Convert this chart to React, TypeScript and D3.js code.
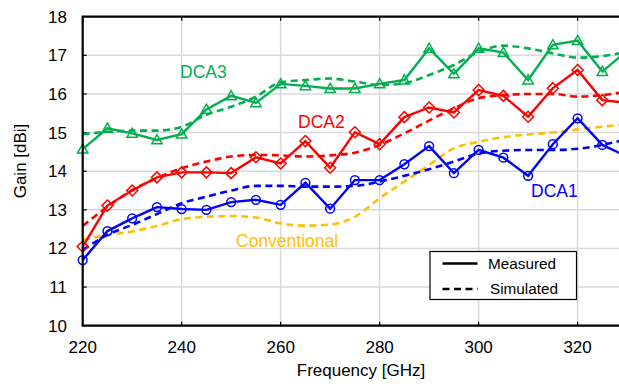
import React from "react";
import * as d3 from "d3";

const freqs = [220,225,230,235,240,245,250,255,260,265,270,275,280,285,290,295,300,305,310,315,320,325,330];

const dca3Meas = [14.57,15.11,14.98,14.81,14.96,15.6,15.95,15.77,16.26,16.21,16.14,16.14,16.26,16.36,17.18,16.52,17.18,17.07,16.36,17.27,17.38,16.58,17.12];
const dca3Sim = [14.96,15.02,15.05,15.05,15.15,15.46,15.67,15.93,16.3,16.36,16.4,16.32,16.23,16.28,16.49,16.75,17.09,17.25,17.18,17.05,16.94,16.98,17.09];

const dca2Meas = [12.05,13.11,13.5,13.84,13.97,13.97,13.95,14.36,14.2,14.78,14.09,15.01,14.7,15.4,15.65,15.52,16.1,15.95,15.41,16.15,16.62,15.84,15.77];
const dca2Sim = [12.58,13.08,13.51,13.82,14.08,14.25,14.38,14.42,14.41,14.38,14.41,14.48,14.68,14.98,15.31,15.63,15.89,15.97,16.0,16.0,15.93,15.97,16.06];

const dca1Meas = [11.7,12.45,12.78,13.07,13.02,13.0,13.2,13.26,13.13,13.7,13.03,13.77,13.77,14.18,14.65,13.95,14.55,14.35,13.88,14.7,15.37,14.68,14.38];
const dca1Sim = [11.96,12.35,12.61,12.89,13.17,13.34,13.5,13.62,13.62,13.6,13.6,13.62,13.73,13.88,14.05,14.25,14.46,14.53,14.55,14.55,14.58,14.68,14.83];

const convSim = [12.22,12.35,12.44,12.58,12.76,12.82,12.84,12.8,12.65,12.59,12.62,12.82,13.3,13.73,14.16,14.59,14.76,14.88,14.95,15.0,15.08,15.15,15.22];

const xTicks = [220,240,260,280,300,320];
const yTicks = [10,11,12,13,14,15,16,17,18];

const GREEN = "#00b050";
const RED = "#ff0000";
const BLUE = "#0000ff";
const ORANGE = "#ffc000";

export default function App() {
  const W = 619, H = 388;
  const x = d3.scaleLinear().domain([220, 320]).range([82.7, 577.6]);
  const y = d3.scaleLinear().domain([10, 18]).range([325.7, 16.7]);
  const font = "'Liberation Sans', Arial, sans-serif";

  const solid = d3.line<number>().x((_, i) => x(freqs[i])).y((d) => y(d));
  const smooth = d3.line<number>().x((_, i) => x(freqs[i])).y((d) => y(d)).curve(d3.curveMonotoneX);

  const tri = (cx: number, cy: number) => {
    const s = 5.2;
    return `M${cx},${cy - s}L${cx + s},${cy + s * 0.75}L${cx - s},${cy + s * 0.75}Z`;
  };
  const dia = (cx: number, cy: number) => {
    const s = 5.5;
    return `M${cx},${cy - s}L${cx + s},${cy}L${cx},${cy + s}L${cx - s},${cy}Z`;
  };

  const left = 82.7, top = 16.7, bottom = 325.7;

  return (
    <div style={{ position: "absolute", left: 0, top: 0 }}>
      <svg width={W} height={H} style={{ display: "block", background: "#fff" }}>
        {/* grid */}
        {yTicks.slice(1, -1).map((t) => (
          <line key={"gy" + t} x1={left} x2={W} y1={y(t)} y2={y(t)} stroke="#d9d9d9" strokeWidth={1.5} />
        ))}
        {xTicks.slice(1).map((t) => (
          <line key={"gx" + t} x1={x(t)} x2={x(t)} y1={top} y2={bottom} stroke="#d9d9d9" strokeWidth={1.5} />
        ))}
        {/* tick marks */}
        {yTicks.slice(1, -1).map((t) => (
          <line key={"ty" + t} x1={left} x2={left + 4} y1={y(t)} y2={y(t)} stroke="#000" strokeWidth={1.2} />
        ))}
        {xTicks.slice(1).map((t) => (
          <g key={"tx" + t}>
            <line x1={x(t)} x2={x(t)} y1={bottom} y2={bottom - 4} stroke="#000" strokeWidth={1.2} />
            <line x1={x(t)} x2={x(t)} y1={top} y2={top + 4} stroke="#000" strokeWidth={1.2} />
          </g>
        ))}

        {/* simulated */}
        {[
          [convSim, ORANGE],
          [dca1Sim, BLUE],
          [dca2Sim, RED],
          [dca3Sim, GREEN],
        ].map(([d, c], i) => (
          <path key={"s" + i} d={smooth(d as number[]) || ""} fill="none" stroke={c as string} strokeWidth={2.6} strokeDasharray="7,4.5" />
        ))}

        {/* measured */}
        <path d={solid(dca1Meas) || ""} fill="none" stroke={BLUE} strokeWidth={2.4} />
        {dca1Meas.map((v, i) => (
          <circle key={"c" + i} cx={x(freqs[i])} cy={y(v)} r={4.4} fill="none" stroke={BLUE} strokeWidth={1.5} />
        ))}
        <path d={solid(dca2Meas) || ""} fill="none" stroke={RED} strokeWidth={2.4} />
        {dca2Meas.map((v, i) => (
          <path key={"d" + i} d={dia(x(freqs[i]), y(v))} fill="none" stroke={RED} strokeWidth={1.5} />
        ))}
        <path d={solid(dca3Meas) || ""} fill="none" stroke={GREEN} strokeWidth={2.4} />
        {dca3Meas.map((v, i) => (
          <path key={"t" + i} d={tri(x(freqs[i]), y(v))} fill="none" stroke={GREEN} strokeWidth={1.5} />
        ))}

        {/* axes frame */}
        <line x1={left} x2={left} y1={top} y2={bottom} stroke="#000" strokeWidth={2.2} />
        <line x1={left - 1} x2={W} y1={bottom} y2={bottom} stroke="#000" strokeWidth={2.2} />
        <line x1={left - 1} x2={W} y1={top} y2={top} stroke="#000" strokeWidth={2.2} />

        {/* tick labels */}
        {yTicks.map((t) => (
          <text key={"ly" + t} x={67} y={y(t)} dy="0.35em" textAnchor="end" fontFamily={font} fontSize={17} fill="#000">{t}</text>
        ))}
        {xTicks.map((t) => (
          <text key={"lx" + t} x={x(t)} y={347.5} dy="0.35em" textAnchor="middle" fontFamily={font} fontSize={17} fill="#000">{t}</text>
        ))}
        <text x={361} y={370} dy="0.35em" textAnchor="middle" fontFamily={font} fontSize={17} fill="#000">Frequency [GHz]</text>
        <text transform="translate(20,161) rotate(-90)" dy="0.35em" textAnchor="middle" fontFamily={font} fontSize={17} fill="#000">Gain [dBi]</text>

        {/* series labels */}
        <text x={180} y={72} dy="0.35em" fontFamily={font} fontSize={17.5} fill={GREEN}>DCA3</text>
        <text x={298} y={122} dy="0.35em" fontFamily={font} fontSize={17.5} fill={RED}>DCA2</text>
        <text x={531} y={191} dy="0.35em" fontFamily={font} fontSize={17.5} fill={BLUE}>DCA1</text>
        <text x={236} y={241} dy="0.35em" fontFamily={font} fontSize={17.5} fill={ORANGE}>Conventional</text>

        {/* legend */}
        <rect x={430} y={251.5} width={146.5} height={48} fill="#fff" stroke="#000" strokeWidth={1.2} />
        <line x1={442.5} x2={477.5} y1={263.5} y2={263.5} stroke="#000" strokeWidth={2.6} />
        <text x={488} y={263.5} dy="0.35em" fontFamily={font} fontSize={15.3} fill="#000">Measured</text>
        <line x1={442.5} x2={477.5} y1={289} y2={289} stroke="#000" strokeWidth={2.6} strokeDasharray="7,4.5" />
        <text x={490} y={289} dy="0.35em" fontFamily={font} fontSize={15.3} fill="#000">Simulated</text>
      </svg>
    </div>
  );
}
